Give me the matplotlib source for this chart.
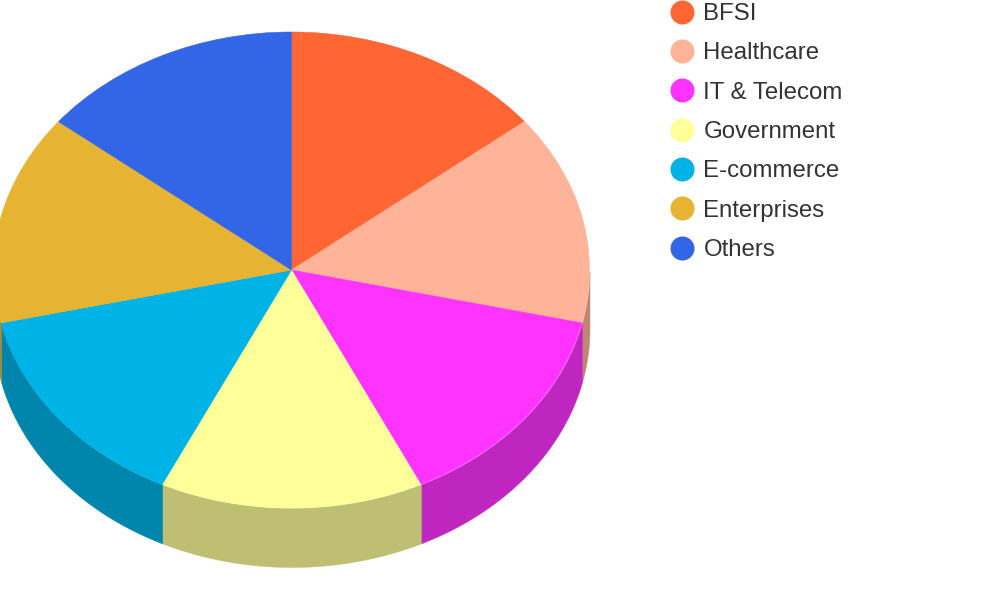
import numpy as np
import matplotlib
matplotlib.use("Agg")
import matplotlib.pyplot as plt
from matplotlib.lines import Line2D

plt.rcParams['font.family'] = ['Liberation Sans', 'DejaVu Sans']

labels = ['BFSI', 'Healthcare', 'IT & Telecom', 'Government', 'E-commerce', 'Enterprises', 'Others']
values = [1, 1, 1, 1, 1, 1, 1]
colors = ['#ff6633', '#ffb399', '#ff33ff', '#ffff99', '#00b3e6', '#e6b333', '#3366e6']

# pie geometry in pixels of the 1000x600 picture
cx, cy = 291.5, 270
rx, ry = 298, 238
depth = 59 / ry

fig = plt.figure(figsize=(10, 6), dpi=100)
ax = fig.add_axes([0, 0, 1, 1])

wedges, _ = ax.pie(values, colors=colors, startangle=90, counterclock=False, radius=1,
                   wedgeprops={'linewidth': 0.4}, normalize=True)
for w in wedges:
    w.set_edgecolor(w.get_facecolor())
    w.set_zorder(3)

ax.set_aspect('auto')
ax.set_xlim((0 - cx) / rx, (1000 - cx) / rx)
ax.set_ylim((cy - 600) / ry, cy / ry)
ax.axis('off')

# side wall, only the part of each slice on the front half
for w, c in zip(wedges, colors):
    t1, t2 = np.radians(w.theta1), np.radians(w.theta2)
    t = np.linspace(t1, t2, 100)
    t = t[np.sin(t) <= 0]
    if len(t) == 0:
        continue
    rgb = np.array(matplotlib.colors.to_rgb(c)) * 0.75
    ax.fill_between(np.cos(t), np.sin(t) - depth, np.sin(t), color=rgb, lw=0.3, zorder=2)

handles = [Line2D([], [], marker='o', ls='none', color=c, markersize=17.3, markeredgewidth=0)
           for c in colors]
fig.legend(handles, labels, loc='upper left', bbox_to_anchor=(0.6575, 0.995), frameon=False,
           fontsize=17.3, labelcolor='#333333', labelspacing=0.722, handletextpad=-0.09,
           borderpad=0, borderaxespad=0)

fig.savefig('out.png', dpi=100)
